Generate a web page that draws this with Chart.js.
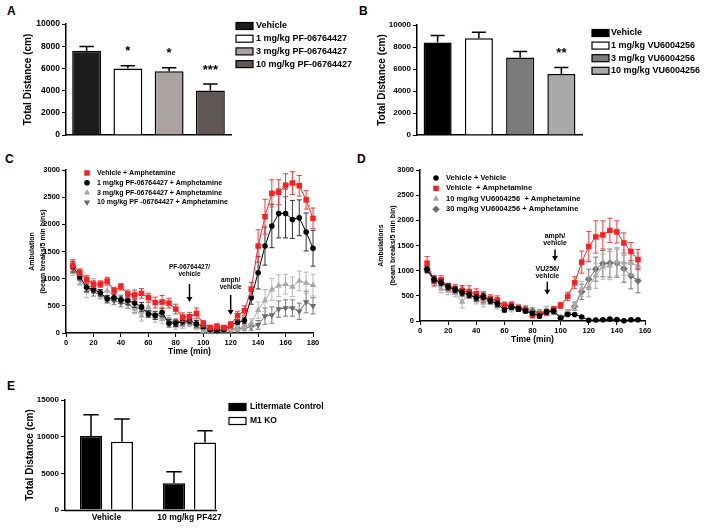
<!DOCTYPE html>
<html><head><meta charset="utf-8">
<script src="https://cdn.jsdelivr.net/npm/chart.js"></script>
<style>
html,body{margin:0;padding:0;background:#fff;}
#wrap{position:relative;width:704px;height:528px;overflow:hidden;background:#fff;}
canvas{position:absolute;}
.lab{position:absolute;font:bold 12px "Liberation Sans",Arial,sans-serif;line-height:12px;color:#000;}
</style></head>
<body><div id="wrap">
<div class="lab" style="left:7px;top:5px">A</div>
<div class="lab" style="left:359px;top:5px">B</div>
<div class="lab" style="left:5px;top:153px">C</div>
<div class="lab" style="left:357px;top:153px">D</div>
<div class="lab" style="left:7px;top:380px">E</div>
<canvas id="cA" width="352" height="150" style="left:0;top:0"></canvas>
<canvas id="cB" width="352" height="150" style="left:352px;top:0"></canvas>
<canvas id="cC" width="352" height="215" style="left:0;top:150px"></canvas>
<canvas id="cD" width="352" height="215" style="left:352px;top:150px"></canvas>
<canvas id="cE" width="352" height="148" style="left:0;top:380px"></canvas>
</div>
<script>
// ---------- DATA ----------
// Panel A
const aLabels = ['Vehicle','1 mg/kg PF-06764427','3 mg/kg PF-06764427','10 mg/kg PF-06764427'];
const aMeans = [7600, 6000, 5750, 4000];
const aSEM = [380, 250, 300, 600];
const aStars = ['', '*', '*', '***'];
// Panel B
const bLabels = ['Vehicle','1 mg/kg VU6004256','3 mg/kg VU6004256','10 mg/kg VU6004256'];
const bMeans = [8400, 8800, 7050, 5550];
const bSEM = [650, 550, 550, 580];
const bStars = ['', '', '', '**'];
// Panel C
const cTime = [5,10,15,20,25,30,35,40,45,50,55,60,65,70,75,80,85,90,95,100,105,110,115,120,125,130,135,140,145,150,155,160,165,170,175,180];
const cVehAmph = [1240,1120,985,900,900,955,780,850,720,700,730,650,560,570,550,440,290,300,360,170,100,120,100,150,320,410,810,1600,2140,2570,2590,2720,2760,2710,2450,2110];
const cVehAmpErr = [110,60,70,60,60,70,60,60,70,90,90,80,100,120,90,90,80,80,100,60,40,50,40,60,80,90,120,300,320,250,230,210,210,190,170,190];
const cPF1 = [1220,1040,840,800,740,630,650,610,600,550,480,350,320,380,180,180,210,230,170,120,60,50,60,150,200,230,650,1110,1600,1970,2200,2200,2090,2120,1860,1560];
const cPF1Err = [100,60,80,60,60,60,60,70,80,80,80,60,70,80,70,60,60,60,60,40,30,30,40,40,50,60,120,300,350,400,450,450,350,330,350,330];
const cPF3 = [1180,1000,800,900,720,780,680,620,560,450,320,480,300,250,240,130,140,200,110,40,40,60,50,60,80,110,180,420,600,800,870,900,850,960,920,880];
const cPF3Err = [120,120,150,100,80,100,80,80,100,100,100,80,100,80,80,60,60,60,50,40,30,30,40,40,40,50,80,150,200,200,200,180,180,180,200,200];
const cPF10 = [1200,980,820,760,700,620,590,560,530,460,440,380,330,300,220,200,220,180,120,60,40,30,50,60,60,90,110,150,310,330,440,460,460,400,570,500];
const cPF10Err = [100,80,80,80,70,70,70,80,80,80,70,70,70,60,60,60,50,50,40,30,30,30,30,30,40,40,60,80,150,150,150,150,150,150,200,150];
const cLegend = ['Vehicle + Amphetamine','1 mg/kg PF-06764427 + Amphetamine','3 mg/kg PF-06764427 + Amphetamine','10 mg/kg PF -06764427 + Amphetamine'];
// Panel D
const dTime = [5,10,15,20,25,30,35,40,45,50,55,60,65,70,75,80,85,90,95,100,105,110,115,120,125,130,135,140,145,150,155];
const dVehVeh = [1020,820,760,680,620,560,520,460,480,400,340,220,280,240,200,150,100,180,200,60,130,130,80,15,20,25,40,30,5,25,25];
const dVehVehErr = [60,60,60,60,60,60,60,60,60,60,60,40,50,50,40,40,40,40,40,20,20,20,20,10,10,10,10,10,10,10,10];
const dVehAmph = [1150,800,820,680,650,600,580,540,470,440,420,300,320,250,220,120,130,170,230,310,490,760,1170,1480,1670,1710,1800,1770,1550,1380,1220];
const dVehAmphErr = [130,100,80,70,80,100,120,100,100,80,80,60,60,60,60,60,60,60,60,60,80,120,220,300,320,280,240,220,200,180,200];
const dVU10 = [1020,760,640,600,560,380,560,420,360,420,300,320,240,260,220,120,160,230,220,80,160,300,640,680,900,1080,1100,1180,1160,1150,1100];
const dVU10Err = [80,80,80,80,80,120,80,80,80,80,60,60,60,60,60,60,60,60,60,40,60,80,150,200,250,250,280,280,250,250,250];
const dVU30 = [1040,840,760,680,600,620,540,460,500,410,350,320,280,270,240,200,170,180,190,60,160,290,580,830,1030,1140,1150,1150,1040,900,800];
const dVU30Err = [60,60,60,60,60,80,80,80,80,60,60,60,60,60,60,60,60,60,60,40,60,80,150,200,240,260,280,280,270,260,240];
const dLegend = ['Vehicle + Vehicle','Vehicle  + Amphetamine','10 mg/kg VU6004256  + Amphetamine','30 mg/kg VU6004256 + Amphetamine'];
// Panel E
const eGroups = ['Vehicle','10 mg/kg PF427'];
const eSeries = ['Littermate Control','M1 KO'];
const eLC = [10100, 3650];
const eLCErr = [2900, 1550];
const eKO = [9300, 9200];
const eKOErr = [3100, 1600];

// ---------- SETUP ----------
const FONT = '"Liberation Sans", Arial, Helvetica, sans-serif';
Chart.defaults.font.family = FONT;
Chart.defaults.font.weight = 'bold';
Chart.defaults.color = '#000';
Chart.defaults.animation = false;
Chart.defaults.responsive = false;
Chart.defaults.plugins.legend.display = false;
Chart.defaults.plugins.tooltip.enabled = false;

function drawMarker(ctx, style, rot, x, y, r, color) {
  ctx.save(); ctx.fillStyle = color; ctx.translate(x, y); ctx.rotate((rot || 0) * Math.PI / 180);
  ctx.beginPath();
  if (style === 'rect') { const s = r * Math.SQRT1_2; ctx.rect(-s, -s, 2 * s, 2 * s); }
  else if (style === 'rectRot') { ctx.moveTo(-r, 0); ctx.lineTo(0, -r); ctx.lineTo(r, 0); ctx.lineTo(0, r); ctx.closePath(); }
  else if (style === 'triangle') {
    let a = 0; ctx.moveTo(Math.sin(a) * r, -Math.cos(a) * r);
    a += 2 * Math.PI / 3; ctx.lineTo(Math.sin(a) * r, -Math.cos(a) * r);
    a += 2 * Math.PI / 3; ctx.lineTo(Math.sin(a) * r, -Math.cos(a) * r); ctx.closePath();
  } else { ctx.arc(0, 0, r, 0, Math.PI * 2); }
  ctx.fill(); ctx.restore();
}

function drawErr(chart, meta, ds) {
  const ctx = chart.ctx, ys = chart.scales[meta.yAxisID], a = chart.chartArea;
  ctx.save(); ctx.strokeStyle = ds.errorColor || '#000'; ctx.lineWidth = ds.errorWidth || 1;
  meta.data.forEach((el, i) => {
    const raw = ds.data[i]; const v = (typeof raw === 'object') ? raw.y : raw; const e = ds.errors[i];
    if (e == null) return;
    const x = el.x; const top = ys.getPixelForValue(v + e);
    let bot, half;
    if (ds.errorMode === 'both') { bot = Math.min(ys.getPixelForValue(Math.max(v - e, ys.min)), a.bottom); half = ds.capHalf; }
    else { bot = el.y; half = el.width * (ds.capRatio || 0.25); }
    ctx.beginPath(); ctx.moveTo(x, bot); ctx.lineTo(x, top);
    ctx.moveTo(x - half, top); ctx.lineTo(x + half, top);
    if (ds.errorMode === 'both' && v - e > ys.min) { ctx.moveTo(x - half, bot); ctx.lineTo(x + half, bot); }
    ctx.stroke();
  });
  ctx.restore();
}
const errBars = { id: 'errBars',
  beforeDatasetDraw(chart, args) { const ds = chart.data.datasets[args.index]; if (ds.errors && ds.errorMode === 'both') drawErr(chart, args.meta, ds); },
  afterDatasetDraw(chart, args) { const ds = chart.data.datasets[args.index]; if (ds.errors && ds.errorMode === 'up') drawErr(chart, args.meta, ds); }
};
const stars = { id: 'stars',
  afterDatasetsDraw(chart) {
    chart.data.datasets.forEach((ds, di) => {
      if (!ds.stars) return;
      const meta = chart.getDatasetMeta(di), ys = chart.scales[meta.yAxisID], ctx = chart.ctx;
      ctx.save(); ctx.font = 'bold 13px ' + FONT; ctx.textAlign = 'center'; ctx.textBaseline = 'middle'; ctx.fillStyle = '#000';
      meta.data.forEach((el, i) => { const s = ds.stars[i]; if (!s) return;
        ctx.fillText(s, el.x, ys.getPixelForValue(ds.data[i] + ds.errors[i]) - 14); });
      ctx.restore();
    });
  }
};
const boxLegend = { id: 'boxLegend',
  afterDraw(chart, args, o) {
    if (!o || !o.mode) return;
    const ctx = chart.ctx; ctx.save();
    let items;
    if (o.mode === 'bars') { const ds = chart.data.datasets[0]; items = chart.data.labels.map((l, i) => ({ text: l, fill: ds.backgroundColor[i] })); }
    else items = chart.data.datasets.map(ds => ({ text: ds.label, fill: ds.backgroundColor, ds: ds }));
    items.forEach((it, i) => {
      const y = o.y + i * o.dy;
      if (o.mode === 'points') drawMarker(ctx, it.ds.pointStyle, it.ds.pointRotation, o.markerX, y, it.ds.pointRadius, it.ds.pointBackgroundColor);
      else { ctx.fillStyle = it.fill; ctx.fillRect(o.x, y - o.boxH / 2, o.boxW, o.boxH); ctx.strokeStyle = '#000'; ctx.lineWidth = 1.2; ctx.strokeRect(o.x, y - o.boxH / 2, o.boxW, o.boxH); }
      ctx.font = o.font; ctx.textBaseline = 'middle'; ctx.textAlign = 'left'; ctx.fillStyle = '#000';
      ctx.fillText(it.text, o.textX, y);
    });
    ctx.restore();
  }
};
const notes = { id: 'notes',
  afterDatasetsDraw(chart, args, o) {
    if (!o || !o.items) return;
    const xs = chart.scales.x, ys = chart.scales.y, ctx = chart.ctx;
    ctx.save(); ctx.fillStyle = '#000'; ctx.strokeStyle = '#000'; ctx.font = o.font; ctx.textAlign = 'center'; ctx.textBaseline = 'middle';
    o.items.forEach(it => {
      const x = xs.getPixelForValue(it.x);
      it.lines.forEach((t, k) => ctx.fillText(t, x, ys.getPixelForValue(it.textY[k])));
      const y1 = ys.getPixelForValue(it.from), y2 = ys.getPixelForValue(it.to);
      ctx.lineWidth = 1.5; ctx.beginPath(); ctx.moveTo(x, y1); ctx.lineTo(x, y2 - 4); ctx.stroke();
      ctx.beginPath(); ctx.moveTo(x - 3, y2 - 5); ctx.lineTo(x + 3, y2 - 5); ctx.lineTo(x, y2); ctx.closePath(); ctx.fill();
    });
    ctx.restore();
  }
};
const shortAxis = { id: 'shortAxis',
  afterDatasetsDraw(chart, args, o) {
    if (!o || !o.on) return;
    const a = chart.chartArea; let right = a.left;
    chart.data.datasets.forEach((ds, di) => chart.getDatasetMeta(di).data.forEach(el => { right = Math.max(right, el.x + el.width / 2); }));
    const ctx = chart.ctx; ctx.save(); ctx.strokeStyle = '#000'; ctx.lineWidth = 1.5;
    ctx.beginPath(); ctx.moveTo(a.left - 0.75, a.bottom + 0.5); ctx.lineTo(right + 1, a.bottom + 0.5); ctx.stroke(); ctx.restore();
  }
};
const PLUGINS = [errBars, stars, boxLegend, notes, shortAxis];
const plain = v => String(v);

function yAxis(W, max, step, title, tFont, tPad, tickSize) {
  return { min: 0, max: max, afterFit(s) { s.width = W; },
    ticks: { stepSize: step, font: { size: tickSize, weight: 'bold' }, padding: 2, color: '#000', callback: plain },
    grid: { drawOnChartArea: false, drawTicks: true, tickLength: 4, color: '#000', lineWidth: 1 },
    border: { display: true, color: '#000', width: 1.5 },
    title: { display: true, text: title, font: tFont, padding: { top: tPad, bottom: 0 }, color: '#000' } };
}
function xCat(H, showTicks) {
  return { afterFit(s) { s.height = H; },
    ticks: { display: showTicks, font: { size: 8.5, weight: 'bold' }, padding: 3, color: '#000', maxRotation: 0 },
    grid: { display: true, drawOnChartArea: false, drawTicks: false },
    border: { display: true, color: '#000', width: 1.5 } };
}
function xTime(max, H, pb) {
  return { type: 'linear', min: 0, max: max, afterFit(s) { s.height = H; },
    ticks: { stepSize: 20, font: { size: 7.5, weight: 'bold' }, padding: 1, maxRotation: 0, autoSkip: false, color: '#000', callback: plain },
    grid: { drawOnChartArea: false, drawTicks: true, tickLength: 4, color: '#000' },
    border: { display: true, color: '#000', width: 1.5 },
    title: { display: true, text: 'Time (min)', font: { size: 8.5, weight: 'bold' }, padding: { top: 0, bottom: pb }, color: '#000' } };
}
function series(label, times, vals, errs, color, errColor, style, r, rot) {
  return { label: label, data: times.map((t, i) => ({ x: t, y: vals[i] })), errors: errs, errorMode: 'both',
    errorColor: errColor, capHalf: 2.5, borderColor: color, backgroundColor: color, pointBackgroundColor: color,
    pointBorderColor: color, pointBorderWidth: 0, borderWidth: 1, pointStyle: style, pointRadius: r,
    pointRotation: rot || 0, tension: 0, clip: false };
}

// ---------- Panel A ----------
new Chart(document.getElementById('cA'), {
  type: 'bar', plugins: PLUGINS,
  data: { labels: aLabels, datasets: [{ data: aMeans, errors: aSEM, stars: aStars, errorMode: 'up', errorWidth: 1.5,
    backgroundColor: ['#1c1c1c', '#ffffff', '#aaa3a1', '#5f5756'], borderColor: '#000', borderWidth: 1.5,
    categoryPercentage: 1, barPercentage: 0.7 }] },
  options: { layout: { padding: { left: 10, top: 24, right: 121, bottom: 0 } },
    plugins: { boxLegend: { mode: 'bars', x: 236, y: 26, dy: 12.7, boxW: 17, boxH: 7, textX: 256, font: 'bold 9px ' + FONT } },
    scales: { x: xCat(15, false), y: yAxis(56, 10000, 2000, 'Total Distance (cm)', { size: 10, weight: 'bold' }, 12, 8.5) } }
});
// ---------- Panel B ----------
new Chart(document.getElementById('cB'), {
  type: 'bar', plugins: PLUGINS,
  data: { labels: bLabels, datasets: [{ data: bMeans, errors: bSEM, stars: bStars, errorMode: 'up', errorWidth: 1.5,
    backgroundColor: ['#000000', '#ffffff', '#7b7b7b', '#a9a9a9'], borderColor: '#000', borderWidth: 1.5,
    categoryPercentage: 1, barPercentage: 0.68 }] },
  options: { layout: { padding: { left: 10, top: 25, right: 122, bottom: 0 } },
    plugins: { boxLegend: { mode: 'bars', x: 240, y: 33, dy: 12.6, boxW: 17, boxH: 7, textX: 259, font: 'bold 9px ' + FONT } },
    scales: { x: xCat(15, false), y: yAxis(55, 10000, 2000, 'Total Distance (cm)', { size: 10, weight: 'bold' }, 14, 8) } }
});
// ---------- Panel C ----------
new Chart(document.getElementById('cC'), {
  type: 'line', plugins: PLUGINS,
  data: { datasets: [
    series(cLegend[0], cTime, cVehAmph, cVehAmpErr, '#ff1f1f', '#ff3535', 'rect', 3.9),
    series(cLegend[1], cTime, cPF1, cPF1Err, '#000000', '#333333', 'circle', 2.8),
    series(cLegend[2], cTime, cPF3, cPF3Err, '#a8a8a8', '#b5b5b5', 'triangle', 3.7),
    series(cLegend[3], cTime, cPF10, cPF10Err, '#6b6b6b', '#7a7a7a', 'triangle', 3.7, 180)
  ] },
  options: { layout: { padding: { left: 8, top: 20, right: 39, bottom: 6 } },
    plugins: {
      boxLegend: { mode: 'points', markerX: 87, y: 23, dy: 9.8, textX: 97, font: 'bold 7px ' + FONT },
      notes: { font: 'bold 6.5px ' + FONT, items: [
        { x: 90, lines: ['PF-06764427/', 'vehicle'], textY: [1215, 1086], from: 900, to: 570 },
        { x: 120, lines: ['amph/', 'vehicle'], textY: [975, 847], from: 700, to: 330 } ] } },
    scales: { x: xTime(180, 26, 2),
      y: yAxis(58, 3000, 500, ['Ambulation', '(beam breaks/5 min bins)'], { size: 7, weight: 'bold', lineHeight: 1.55 }, 19, 7.5) } }
});
// ---------- Panel D ----------
new Chart(document.getElementById('cD'), {
  type: 'line', plugins: PLUGINS,
  data: { datasets: [
    series(dLegend[0], dTime, dVehVeh, dVehVehErr, '#000000', '#222222', 'circle', 2.8),
    series(dLegend[1], dTime, dVehAmph, dVehAmphErr, '#ff1f1f', '#ff3535', 'rect', 3.9),
    series(dLegend[2], dTime, dVU10, dVU10Err, '#a8a8a8', '#b0b0b0', 'triangle', 3.7),
    series(dLegend[3], dTime, dVU30, dVU30Err, '#6e6e6e', '#767676', 'rectRot', 3.8)
  ] },
  options: { layout: { padding: { left: 8, top: 20, right: 59, bottom: 18 } },
    plugins: {
      boxLegend: { mode: 'points', markerX: 84, y: 28, dy: 10.4, textX: 94, font: 'bold 7.5px ' + FONT },
      notes: { font: 'bold 7px ' + FONT, items: [
        { x: 96, lines: ['amph/', 'vehicle'], textY: [1690, 1550], from: 1420, to: 1190 },
        { x: 90.5, lines: ['VU256/', 'vehicle'], textY: [1034, 895], from: 780, to: 520 } ] } },
    scales: { x: xTime(160, 26, 2),
      y: yAxis(60, 3000, 500, ['Ambulations', '(beam breaks/5 min bin)'], { size: 7, weight: 'bold', lineHeight: 1.75 }, 14.5, 7.5) } }
});
// ---------- Panel E ----------
new Chart(document.getElementById('cE'), {
  type: 'bar', plugins: PLUGINS,
  data: { labels: eGroups, datasets: [
    { label: eSeries[0], data: eLC, errors: eLCErr, errorMode: 'up', errorWidth: 1.5, capRatio: 0.35, backgroundColor: '#000000', borderColor: '#000', borderWidth: 1.5, categoryPercentage: 0.747, barPercentage: 0.71 },
    { label: eSeries[1], data: eKO, errors: eKOErr, errorMode: 'up', errorWidth: 1.5, capRatio: 0.35, backgroundColor: '#ffffff', borderColor: '#000', borderWidth: 1.5, categoryPercentage: 0.747, barPercentage: 0.71 }
  ] },
  options: { layout: { padding: { left: 10, top: 20, right: 121, bottom: 0 } },
    plugins: { boxLegend: { mode: 'datasets', x: 229, y: 27, dy: 14, boxW: 17, boxH: 7, textX: 250, font: 'bold 8.5px ' + FONT },
      shortAxis: { on: true } },
    scales: { x: Object.assign(xCat(18, true), { border: { display: false } }),
      y: yAxis(55, 15000, 5000, 'Total Distance (cm)', { size: 10, weight: 'bold' }, 14, 8) } }
});
</script>
</body></html>
